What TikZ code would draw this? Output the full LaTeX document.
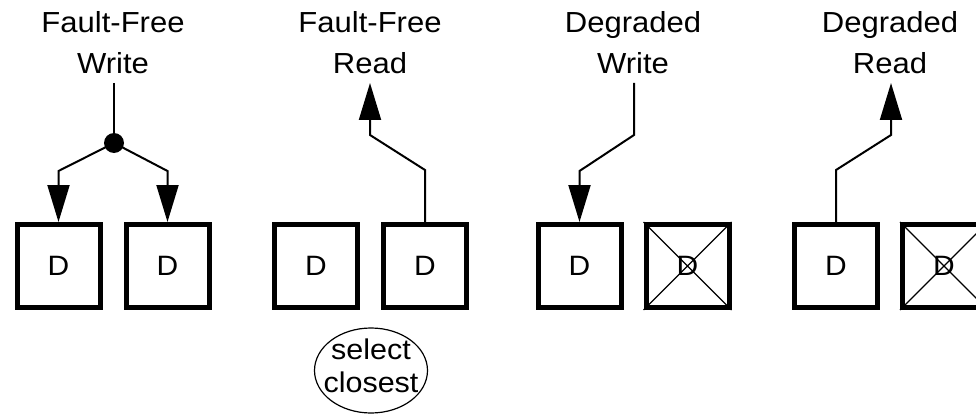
\documentclass[tikz,border=0pt]{standalone}
\usepackage{fontspec}
\setmainfont[FakeStretch=1.07]{Liberation Sans}
\usetikzlibrary{arrows.meta,shapes.geometric}
\begin{document}
\begin{tikzpicture}[x=1pt,y=-1pt,
  disk/.style={draw,line width=5pt,minimum width=83pt,minimum height=83pt,inner sep=0pt,font=\fontsize{28}{32}\selectfont},
  title/.style={align=center,font=\fontsize{29}{41}\selectfont,inner sep=0pt,anchor=north},
  conn/.style={line width=2pt},
  arr/.style={conn,-{Triangle[length=37pt,width=22pt]}},
  cross/.style={line width=1.2pt},
  dotn/.style={circle,fill=black,inner sep=0pt,minimum size=20pt}]
\clip (0,0) rectangle (976,417);
\fill[white] (0,0) rectangle (976,417);
% titles
\node[title] (t1) at (113,11.5) {Fault-Free\\Write};
\node[title] (t2) at (370,11.5) {Fault-Free\\Read};
\node[title] (t3) at (633,11.5) {Degraded\\Write};
\node[title] (t4) at (890,11.5) {Degraded\\Read};
% disks
\node[disk] (b11) at (58.5,266) {D};
\node[disk] (b12) at (167.5,266) {D};
\node[disk] (b21) at (316,266) {D};
\node[disk] (b22) at (425,266) {D};
\node[disk] (b31) at (579.5,266) {D};
\node[disk] (b32) at (687.5,266) {D};
\node[disk] (b41) at (836,266) {D};
\node[disk] (b42) at (944,266) {D};
\draw[cross] (b32.north west) -- (b32.south east) (b32.north east) -- (b32.south west);
\draw[cross] (b42.north west) -- (b42.south east) (b42.north east) -- (b42.south west);
% fault-free write
\node[dotn] (dot) at (114,143) {};
\coordinate (s1) at (114,83);
\draw[conn] (s1) -- (dot.center);
\draw[arr] (dot.center) -- (b11.north |- 0,171) -- (b11.north);
\draw[arr] (dot.center) -- (b12.north |- 0,171) -- (b12.north);
% fault-free read
\coordinate (e2) at (370,83);
\draw[arr] (b22.north) -- (b22.north |- 0,170) -- (370,135) -- (e2);
\node[inner sep=0pt,align=center,font=\fontsize{28.5}{33}\selectfont] (sel) at (371,366) {select\\closest};
\draw[line width=1.2pt] (371,370.5) ellipse [x radius=56.5pt, y radius=42.5pt];
% degraded write
\coordinate (s3) at (634,83);
\draw[arr] (s3) -- (634,135) -- (b31.north |- 0,171) -- (b31.north);
% degraded read
\coordinate (e4) at (891,83);
\draw[arr] (b41.north) -- (b41.north |- 0,170) -- (891,135) -- (e4);
\end{tikzpicture}
\end{document}
